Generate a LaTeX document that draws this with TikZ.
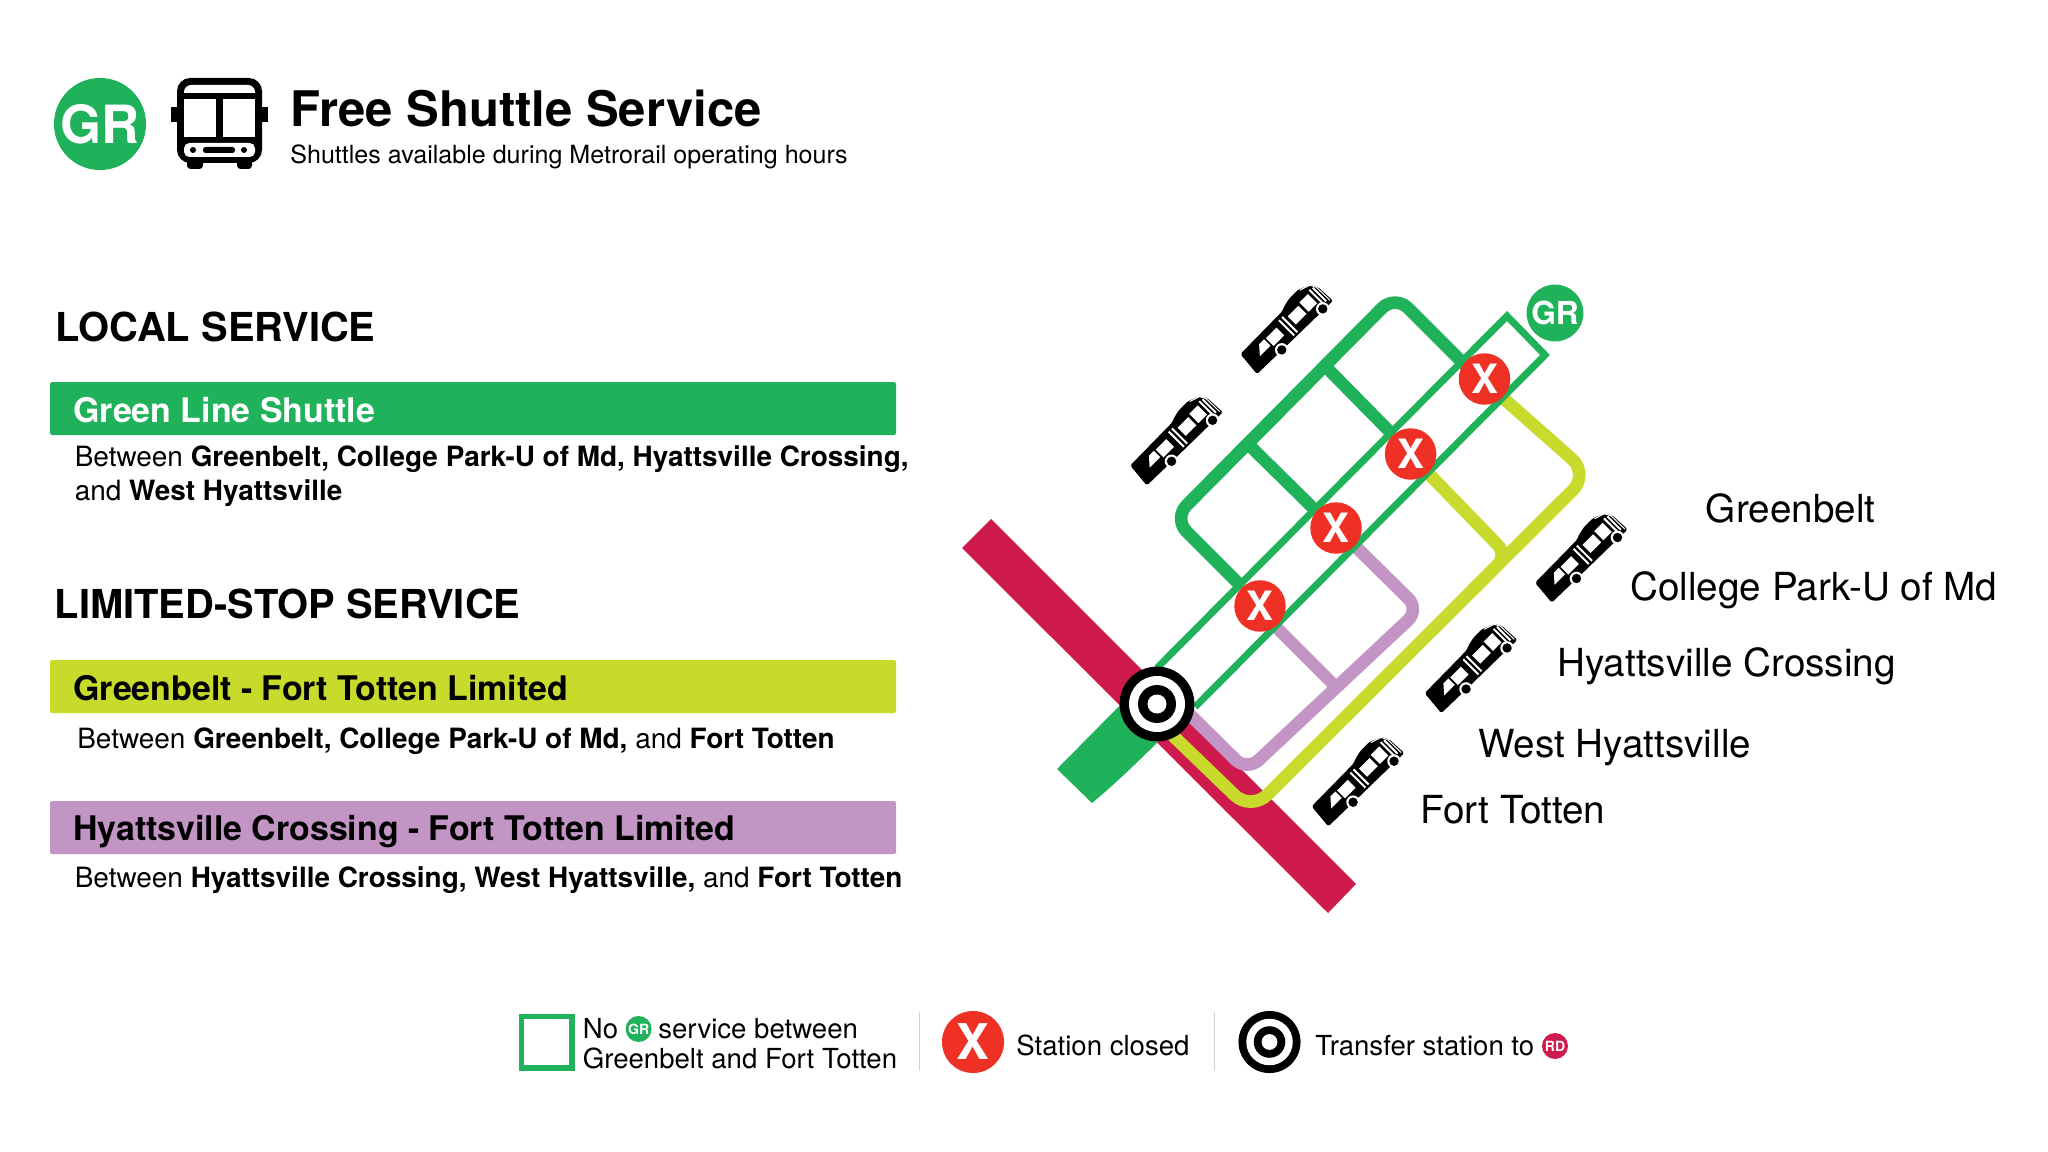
\documentclass[tikz,border=0pt]{standalone}
\usepackage{fontspec}
\setmainfont{TeX Gyre Heros}
\usetikzlibrary{positioning}
\definecolor{linegreen}{HTML}{1FB25A}
\definecolor{linelime}{HTML}{C8DA2B}
\definecolor{linepurple}{HTML}{C295C4}
\definecolor{linered}{HTML}{CE1A4C}
\definecolor{closedred}{HTML}{EE3124}
\tikzset{
  headline/.style={anchor=base west,font=\fontsize{27.9}{30}\selectfont\bfseries},
  subline/.style={anchor=base west,font=\fontsize{14.27}{16}\selectfont},
  section/.style={anchor=base west,font=\fontsize{22.7}{26}\selectfont\bfseries},
  bartitle/.style={anchor=base west,font=\fontsize{19.3}{22}\selectfont\bfseries},
  barnote/.style={anchor=base west,font=\fontsize{15.9}{19}\selectfont},
  stationname/.style={anchor=base west,font=\fontsize{22}{25}\selectfont},
  legendtext/.style={anchor=base west,font=\fontsize{15.7}{19}\selectfont},
  bar/.style={rounded corners=1.2pt},
  shuttleline/.style={line width=7.2pt,line join=round},
  railline/.style={draw=linegreen,line width=4pt,line join=miter},
  closedstop/.style={circle,fill=closedred,text=white,minimum size=29.3pt,font=\fontsize{23}{23}\selectfont\bfseries},
  linebadge/.style={circle,text=white,font=\bfseries},
  pics/transferring/.style={code={
    \fill [black] (0,0) circle (37.4);
    \fill [white] (0,0) circle (28);
    \fill [black] (0,0) circle (19);
    \fill [white] (0,0) circle (9.5);
  }},
  pics/sidebus/.style={code={
    \fill [black,rounded corners=1pt] (-52.6,-10.6) -- (-50.2,15.3) -- (10,16) -- (13.4,17.7) -- (23,20) -- (36,20) -- (48,15) -- (52,8) -- (53,-12.5) -- (-10,-11.5) -- cycle;
    \fill [white] (-38,0) -- (-23,0) -- (-23,9) -- (-30,9) -- cycle;
    \fill [white] (-21,-2.5) rectangle (-6,8.5);
    \fill [white] (10,-3) rectangle (25,8.5);
    \fill [white] (28,-3) rectangle (40,10);
    \fill [white] (0,-9.5) rectangle (2,12);
    \fill [white] (4.5,-9.5) rectangle (6.5,12);
    \fill [white] (43,-8) rectangle (45,12);
    \fill [white] (46.8,-8) rectangle (48.8,11);
    \draw [white,line width=0.6pt] (37,18.5) -- (47.5,15) -- (50.7,9) -- (51.2,-10);
    \fill [white] (-18,-11) circle (6.8);
    \fill [black] (-18,-11) circle (4.7);
    \fill [white] (40,-11) circle (6.8);
    \fill [black] (40,-11) circle (4.7);
  }}
}
\begin{document}
\begin{tikzpicture}[x=0.02cm,y=0.02cm]
\tikzstyle{every node}+=[inner sep=0pt]
\useasboundingbox (0,0) rectangle (2048,-1152);
\node [linebadge,fill=linegreen,minimum size=52.4pt,font=\fontsize{30}{30}\selectfont\bfseries] (grtitle) at (100,-124) {GR};
\fill [black] (171,-107) rectangle (180,-122);
\fill [black] (259,-107) rectangle (268,-122);
\fill [black,rounded corners=2pt] (187,-155) rectangle (203,-169);
\fill [black,rounded corners=2pt] (237,-155) rectangle (252,-169);
\fill [black,rounded corners=7.5pt] (177,-78) rectangle (262,-163);
\fill [white,rounded corners=4pt] (184,-85) rectangle (255,-99);
\fill [black] (177,-93) rectangle (262,-99);
\fill [white] (184,-99) rectangle (216,-137);
\fill [white] (223,-99) rectangle (255,-137);
\fill [white,rounded corners=3pt] (184,-143) rectangle (255,-157);
\fill [black] (193,-150) circle (3);
\fill [black] (244,-150) circle (3);
\fill [black,rounded corners=1.5pt] (203,-147) rectangle (235,-153);
\node [headline] (title) at (290,-127) {Free Shuttle Service};
\node [subline] (subtitle) at (290,-164) {Shuttles available during Metrorail operating hours};
\node [section] (localhead) at (55,-341) {LOCAL SERVICE};
\fill [linegreen,bar] (50,-382) rectangle (896,-435);
\node [bartitle,text=white] (greenbar) at (73,-422) {Green Line Shuttle};
\node [barnote] (greennote) at (74.5,-466) {Between \textbf{Greenbelt, College Park-U of Md, Hyattsville Crossing,}};
\node [barnote] (greenmore) at (74.5,-500) {and \textbf{West Hyattsville}};
\node [section] (limitedhead) at (54.5,-618) {LIMITED-STOP SERVICE};
\fill [linelime,bar] (50,-660) rectangle (896,-713);
\node [bartitle] (limebar) at (73,-700) {Greenbelt - Fort Totten Limited};
\node [barnote] (limenote) at (77,-748) {Between \textbf{Greenbelt, College Park-U of Md,} and \textbf{Fort Totten}};
\fill [linepurple,bar] (50,-801) rectangle (896,-854);
\node [bartitle] (purplebar) at (73,-840) {Hyattsville Crossing - Fort Totten Limited};
\node [barnote] (purplenote) at (74.5,-887) {Between \textbf{Hyattsville Crossing, West Hyattsville,} and \textbf{Fort Totten}};
\fill [linered] (991,-519) -- (962,-548) -- (1328,-913) -- (1356,-884) -- cycle;
\fill [linegreen] (1057,-769) -- (1092,-803) .. controls (1105,-792) and (1120,-780) .. (1175,-725) -- (1139,-686) -- cycle;
\draw [linepurple,shuttleline,rounded corners=9pt] (1170,-695) -- (1247,-771) -- (1419.5,-609.5) -- (1355,-546);
\draw [linepurple,line width=7pt] (1275,-626) -- (1337,-688);
\draw [linelime,shuttleline,rounded corners=13pt] (1165,-728) -- (1251,-811) -- (1589,-474) -- (1503,-398);
\draw [linelime,shuttleline,rounded corners=8pt] (1427,-472) -- (1507.5,-555) -- (1472,-590.6);
\draw [linegreen,shuttleline,rounded corners=10.5pt] (1466,-366) -- (1395,-295) -- (1173.5,-518.5) -- (1241,-586);
\draw [linegreen,line width=7pt] (1326,-367) -- (1390,-432);
\draw [linegreen,line width=7pt] (1250,-446) -- (1315,-510);
\draw [railline] (1157,-668) -- (1507,-316) -- (1545,-355) -- (1195,-707);
\node [closedstop] (greenbelt) at (1484.5,-379) {X};
\node [closedstop] (collegepark) at (1410.6,-454) {X};
\node [closedstop] (hyattsville) at (1336,-528) {X};
\node [closedstop] (westhyatt) at (1260,-606) {X};
\pic at (1157,-704) {transferring};
\node [linebadge,fill=linegreen,minimum size=32.4pt,font=\fontsize{18}{18}\selectfont\bfseries] (grmap) at (1555,-313) {GR};
\pic [rotate=45] at (1286.7,-329.4) {sidebus};
\pic [rotate=45] at (1176.5,-440.8) {sidebus};
\pic [rotate=45] at (1581.4,-558) {sidebus};
\pic [rotate=45] at (1471,-668.5) {sidebus};
\pic [rotate=45] at (1358,-781.7) {sidebus};
\node [stationname] (namegreenbelt) at (1705.6,-522) {Greenbelt};
\node [stationname] (namecollege) at (1630,-600) {College Park-U of Md};
\node [stationname] (namehyatt) at (1557,-676) {Hyattsville Crossing};
\node [stationname] (namewest) at (1478,-757) {West Hyattsville};
\node [stationname] (namefort) at (1420,-823) {Fort Totten};
\draw [linegreen,line width=3.4pt] (521.5,-1016.5) rectangle (572,-1068);
\node [legendtext] (legno) at (582.5,-1038) {No};
\node [linebadge,fill=linegreen,minimum size=14.8pt,font=\fontsize{8}{8}\selectfont\bfseries] (grlegend) at (638.6,-1029) {GR};
\node [legendtext] (legservice) at (658,-1038) {service between};
\node [legendtext] (leggreenbelt) at (582.5,-1068) {Greenbelt and Fort Totten};
\draw [black!18,line width=0.8pt] (919.5,-1012) -- (919.5,-1071);
\node [closedstop,minimum size=35.3pt,font=\fontsize{28}{28}\selectfont\bfseries] (legclosed) at (973,-1042) {X};
\node [legendtext] (legstation) at (1016,-1055) {Station closed};
\draw [black!18,line width=0.8pt] (1214.6,-1012) -- (1214.6,-1071);
\pic [scale=0.83] at (1269.5,-1042) {transferring};
\node [legendtext] (legtransfer) at (1315,-1055) {Transfer station to};
\node [linebadge,fill=linered,minimum size=14.8pt,font=\fontsize{8}{8}\selectfont\bfseries] (rdlegend) at (1555,-1046) {RD};
\end{tikzpicture}
\end{document}
